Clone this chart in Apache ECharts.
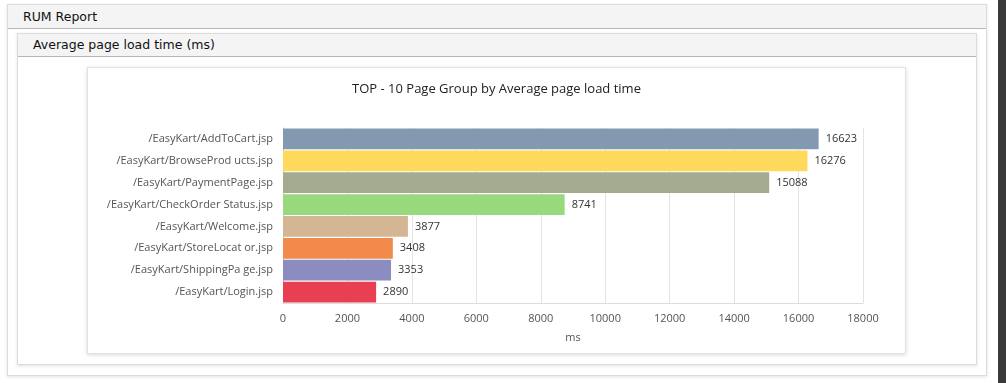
<!DOCTYPE html>
<html>
<head>
<meta charset="utf-8">
<script src="https://cdn.jsdelivr.net/npm/echarts@6/dist/echarts.min.js"></script>
<style>
  html, body { margin:0; padding:0; width:1006px; height:383px; background:#fff; overflow:hidden; font-family:"DejaVu Sans", Verdana, sans-serif; }
  .outer { position:absolute; left:7px; top:4px; width:980px; height:372px; border:1px solid #dcdcdc; box-shadow:0 1px 3px rgba(0,0,0,0.12); background:#fff; box-sizing:border-box; }
  .outer-h { position:absolute; left:0; top:0; right:0; height:23px; background:#f4f4f4; border-bottom:1px solid #b5b5b5; font-size:12.5px; color:#111; line-height:23px; padding-left:15px; }
  .inner { position:absolute; left:17px; top:33px; width:960px; height:332px; border:1px solid #dcdcdc; box-shadow:0 1px 3px rgba(0,0,0,0.12); background:#fff; box-sizing:border-box; }
  .inner-h { position:absolute; left:0; top:0; right:0; height:22px; background:#f4f4f4; border-bottom:1px solid #b5b5b5; font-size:12.5px; color:#111; line-height:22px; padding-left:15px; }
  .box { position:absolute; left:87px; top:67px; width:819px; height:287px; border:1px solid #e2e2e2; box-shadow:0 1px 4px rgba(0,0,0,0.15); background:#fff; box-sizing:border-box; }
  #chart { position:absolute; left:0; top:0; width:817px; height:285px; }
  .scroll { position:absolute; left:998px; top:0; width:8px; height:383px; background:#3a3a3a; }
</style>
</head>
<body>
<div class="outer"><div class="outer-h">RUM Report</div></div>
<div class="inner"><div class="inner-h">Average page load time (ms)</div></div>
<div class="box"><div id="chart"></div></div>
<div class="scroll"></div>
<script>
const categories = [
  "/EasyKart/AddToCart.jsp",
  "/EasyKart/BrowseProd ucts.jsp",
  "/EasyKart/PaymentPage.jsp",
  "/EasyKart/CheckOrder Status.jsp",
  "/EasyKart/Welcome.jsp",
  "/EasyKart/StoreLocat or.jsp",
  "/EasyKart/ShippingPa ge.jsp",
  "/EasyKart/Login.jsp"
];
const values = [16623, 16276, 15088, 8741, 3877, 3408, 3353, 2890];
const colors = ["#8399b0", "#ffd95c", "#a4ab90", "#98d97e", "#d4b594", "#f28a4b", "#8c8cc0", "#e83f52"];
const chartTitle = "TOP - 10 Page Group by Average page load time";
const axisName = "ms";

const chart = echarts.init(document.getElementById('chart'), null, {renderer:'canvas'});
chart.setOption({
  animation: false,
  title: { text: chartTitle, left: 'center', top: 10, textStyle: { fontSize: 13, fontWeight: 'normal', color: '#222', fontFamily: '"Open Sans", sans-serif' } },
  grid: { left: 195, right: 42, top: 60, bottom: 50 },
  xAxis: {
    type: 'value', min: 0, max: 18000, interval: 2000,
    name: axisName, nameLocation: 'middle', nameGap: 29,
    nameTextStyle: { color: '#555', fontSize: 11, fontFamily: '"Open Sans", sans-serif' },
    axisLine: { show: true, lineStyle: { color: '#ddd' } },
    axisTick: { show: false },
    axisLabel: { color: '#555', fontSize: 11, margin: 10, fontFamily: '"Open Sans", sans-serif', formatter: v => String(v) },
    splitLine: { show: true, lineStyle: { color: '#e3e3e3' } }
  },
  yAxis: {
    type: 'category', data: categories, inverse: true,
    axisLine: { show: true, lineStyle: { color: '#ccc' } },
    axisTick: { show: false },
    axisLabel: { color: '#555', fontSize: 11, margin: 10, fontFamily: '"Open Sans", sans-serif' }
  },
  series: [{
    type: 'bar',
    data: values.map((v, i) => ({ value: v, itemStyle: { color: colors[i] } })),
    barCategoryGap: '5%',
    label: { show: true, position: 'right', distance: 7, color: '#333', fontSize: 11, fontFamily: '"Open Sans", sans-serif' }
  }]
});
</script>
</body>
</html>
